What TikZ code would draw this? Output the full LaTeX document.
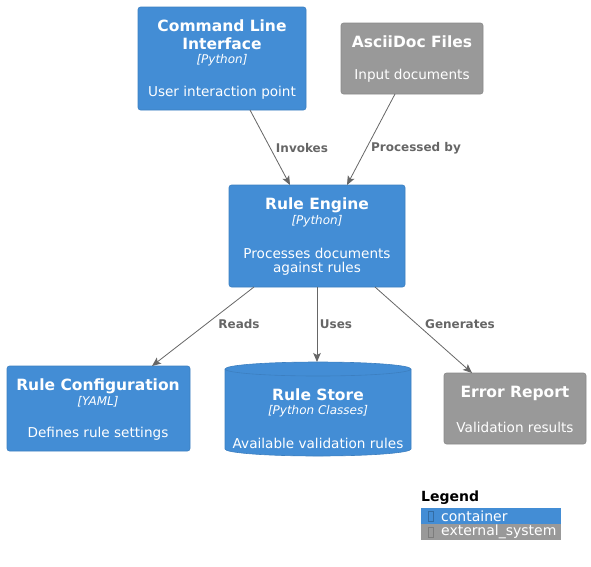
\documentclass[tikz,border=0pt]{standalone}
\usepackage{fontspec}
\setmainfont{DejaVu Sans}
\usetikzlibrary{arrows.meta}
\definecolor{cblue}{HTML}{438DD5}
\definecolor{cblueline}{HTML}{3C7FC0}
\definecolor{cgray}{HTML}{999999}
\definecolor{cgrayline}{HTML}{8A8A8A}
\definecolor{edgec}{HTML}{666666}
\tikzset{
  box/.style={rounded corners=2.5pt, line width=0.6pt},
  contbox/.style={box, fill=cblue, draw=cblueline},
  extbox/.style={box, fill=cgray, draw=cgrayline},
  ttl/.style={text=white, font=\fontsize{15.5}{18}\selectfont\bfseries, inner sep=0pt},
  tech/.style={text=white, font=\fontsize{12}{14}\selectfont\itshape, inner sep=0pt},
  desc/.style={text=white, font=\fontsize{13.6}{16}\selectfont, inner sep=0pt},
  rel/.style={draw=edgec, line width=0.8pt, -{Stealth[length=9pt,width=7.5pt,inset=2pt]}},
  rlabel/.style={text=edgec, font=\fontsize{12}{14}\selectfont\bfseries, inner sep=0pt},
  legtext/.style={anchor=west, inner sep=0pt, text=white, font=\fontsize{14}{16}\selectfont},
}
\begin{document}
\begin{tikzpicture}[x=1pt,y=-1pt]
\useasboundingbox (0,0) rectangle (591,566);
% Command Line Interface
\draw[contbox] (138,7) rectangle (306,110);
\node[ttl] (cliT1) at (222,26) {Command Line};
\node[ttl] (cliT2) at (222,44) {Interface};
\node[tech] (cliP) at (222,60) {[Python]};
\node[desc] (cliD) at (222,93) {User interaction point};
\coordinate (cliB) at (250,110);
% AsciiDoc Files
\draw[extbox] (341,23) rectangle (483,94);
\node[ttl] (adT) at (412,42) {AsciiDoc Files};
\node[desc] (adD) at (412,76) {Input documents};
\coordinate (adB) at (395,94);
% Rule Engine
\draw[contbox] (229,185) rectangle (405,287);
\node[ttl] (reT) at (317,205) {Rule Engine};
\node[tech] (reP) at (317,221) {[Python]};
\node[desc] (reD1) at (317,253) {Processes documents};
\node[desc] (reD2) at (317,269) {against rules};
\coordinate (reT1) at (290,185);
\coordinate (reT2) at (347,185);
\coordinate (reB1) at (254,287);
\coordinate (reB2) at (317,287);
\coordinate (reB3) at (375,287);
% Rule Configuration
\draw[contbox] (7,366) rectangle (190,451);
\node[ttl] (rcT) at (98,386) {Rule Configuration};
\node[tech] (rcP) at (98,402) {[YAML]};
\node[desc] (rcD) at (98,434) {Defines rule settings};
\coordinate (rcTop) at (152,366);
% Rule Store cylinder
\path[fill=cblue, draw=cblueline, line width=0.6pt] (225,369) -- (225,449) arc[start angle=180, end angle=0, x radius=93, y radius=7] -- (411,369) arc[start angle=0, end angle=-180, x radius=93, y radius=7] -- cycle;
\draw[cblueline, line width=0.6pt] (225,369) arc[start angle=180, end angle=0, x radius=93, y radius=7];
\node[ttl] (rsT) at (318,395) {Rule Store};
\node[tech] (rsP) at (318,411) {[Python Classes]};
\node[desc] (rsD) at (318,443) {Available validation rules};
\coordinate (rsTop) at (317,362);
% Error Report
\draw[extbox] (444,373) rectangle (586,444);
\node[ttl] (erT) at (515,393) {Error Report};
\node[desc] (erD) at (515,427) {Validation results};
\coordinate (erTop) at (472,373);
% Relations
\draw[rel] (cliB) -- (reT1);
\node[rlabel] (l1) at (302,148) {Invokes};
\draw[rel] (adB) -- (reT2);
\node[rlabel] (l2) at (416,148) {Processed by};
\draw[rel] (reB1) -- (rcTop);
\node[rlabel] (l3) at (239,324) {Reads};
\draw[rel] (reB2) -- (rsTop);
\node[rlabel] (l4) at (336,324) {Uses};
\draw[rel] (reB3) -- (erTop);
\node[rlabel] (l5) at (460,324) {Generates};
% Legend
\node[anchor=west, inner sep=0pt, font=\fontsize{14}{16}\selectfont\bfseries] (lg) at (421,498) {Legend};
\fill[cblue] (421,508) rectangle (561,524);
\fill[cgray] (421,524) rectangle (561,540);
\draw[cblueline!85!black, line width=0.3pt] (428,511) rectangle (433,521);
\draw[cgrayline!90!black, line width=0.3pt] (428,527) rectangle (433,537);
\node[legtext] (lg1) at (441,516) {container};
\node[legtext] (lg2) at (441,532) {external\_system};
\end{tikzpicture}
\end{document}
